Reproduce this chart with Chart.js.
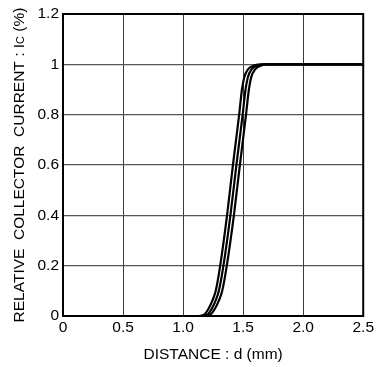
<!DOCTYPE html>
<html>
<head>
<meta charset="utf-8">
<script src="https://cdn.jsdelivr.net/npm/chart.js@4"></script>
<style>
  html, body { margin: 0; padding: 0; background: #fff; }
  #wrap { width: 376px; height: 367px; }
</style>
</head>
<body>
<div id="wrap"><canvas id="chart"></canvas></div>
<script>
// relative collector current levels, shared by the three curves
const levels = [0, 0, 0.005, 0.03, 0.06, 0.1, 0.2, 0.4, 0.6, 0.8, 0.9, 0.95, 0.98, 0.995, 1, 1];
// distance (mm) at which each curve reaches the level above
const distLeft  = [0, 1.13, 1.175, 1.213, 1.243, 1.272, 1.309, 1.366, 1.415, 1.467, 1.49, 1.51, 1.54, 1.59, 1.66, 2.5];
const distMid   = [0, 1.15, 1.20, 1.24, 1.27, 1.298, 1.336, 1.394, 1.444, 1.496, 1.52, 1.54, 1.57, 1.62, 1.68, 2.5];
const distRight = [0, 1.17, 1.225, 1.266, 1.297, 1.326, 1.364, 1.423, 1.473, 1.524, 1.548, 1.568, 1.6, 1.65, 1.70, 2.5];

const xTicks = [0, 0.5, 1.0, 1.5, 2.0, 2.5];
const yTicks = [0, 0.2, 0.4, 0.6, 0.8, 1, 1.2];

const FONT = 'Liberation Sans, Arial, Helvetica, sans-serif';

function toPoints(dist) {
  return dist.map((d, i) => ({ x: d, y: levels[i] }));
}

function curve(dist) {
  return {
    data: toPoints(dist),
    borderColor: '#000',
    borderWidth: 2.2,
    pointRadius: 0,
    fill: false,
    cubicInterpolationMode: 'monotone'
  };
}

// black frame round the plot area
const framePlugin = {
  id: 'frame',
  afterDraw(chart) {
    const { ctx, chartArea: a } = chart;
    ctx.save();
    ctx.strokeStyle = '#000';
    ctx.lineWidth = 2;
    ctx.strokeRect(a.left, a.top, a.right - a.left, a.bottom - a.top);
    ctx.restore();
  }
};

// y axis title with the small "C" of Ic
const yTitlePlugin = {
  id: 'yTitle',
  afterDraw(chart) {
    const { ctx, chartArea: a } = chart;
    const parts = [
      ['RELATIVE  COLLECTOR  CURRENT : I', '15.5px ' + FONT, 0],
      ['C', '11px ' + FONT, 1],
      [' (%)', '15.5px ' + FONT, 0]
    ];
    ctx.save();
    let total = 0;
    parts.forEach(p => { ctx.font = p[1]; total += ctx.measureText(p[0]).width; });
    ctx.translate(20, (a.top + a.bottom) / 2);
    ctx.rotate(-Math.PI / 2);
    ctx.fillStyle = '#000';
    ctx.textBaseline = 'middle';
    let x = -total / 2;
    parts.forEach(p => {
      ctx.font = p[1];
      ctx.fillText(p[0], x, p[2]);
      x += ctx.measureText(p[0]).width;
    });
    ctx.restore();
  }
};

new Chart(document.getElementById('chart'), {
  type: 'line',
  data: {
    datasets: [curve(distLeft), curve(distMid), curve(distRight)]
  },
  options: {
    responsive: true,
    maintainAspectRatio: false,
    animation: false,
    layout: { padding: { left: 0, right: 10, top: 14, bottom: 0 } },
    plugins: { legend: { display: false }, tooltip: { enabled: false } },
    scales: {
      x: {
        type: 'linear',
        min: 0,
        max: 2.5,
        afterBuildTicks: s => { s.ticks = xTicks.map(v => ({ value: v })); },
        afterFit: s => { s.height = 51; },
        ticks: {
          color: '#000',
          font: { family: FONT, size: 15.5 },
          padding: 2,
          maxRotation: 0,
          callback: v => (v === 0 ? '0' : v.toFixed(1))
        },
        grid: { color: '#3a3a3a', lineWidth: 1, drawTicks: false },
        border: { display: false },
        title: {
          display: true,
          text: 'DISTANCE : d (mm)',
          color: '#000',
          font: { family: FONT, size: 15.5 },
          padding: { top: 0, bottom: 3 }
        }
      },
      y: {
        min: 0,
        max: 1.2,
        afterBuildTicks: s => { s.ticks = yTicks.map(v => ({ value: v })); },
        afterFit: s => { s.width = 63; },
        ticks: {
          color: '#000',
          font: { family: FONT, size: 15.5 },
          padding: 4,
          callback: v => (v === 0 || v === 1 ? String(v) : v.toFixed(1))
        },
        grid: { color: '#555', lineWidth: 1.3, drawTicks: false },
        border: { display: false }
      }
    }
  },
  plugins: [framePlugin, yTitlePlugin]
});
</script>
</body>
</html>
